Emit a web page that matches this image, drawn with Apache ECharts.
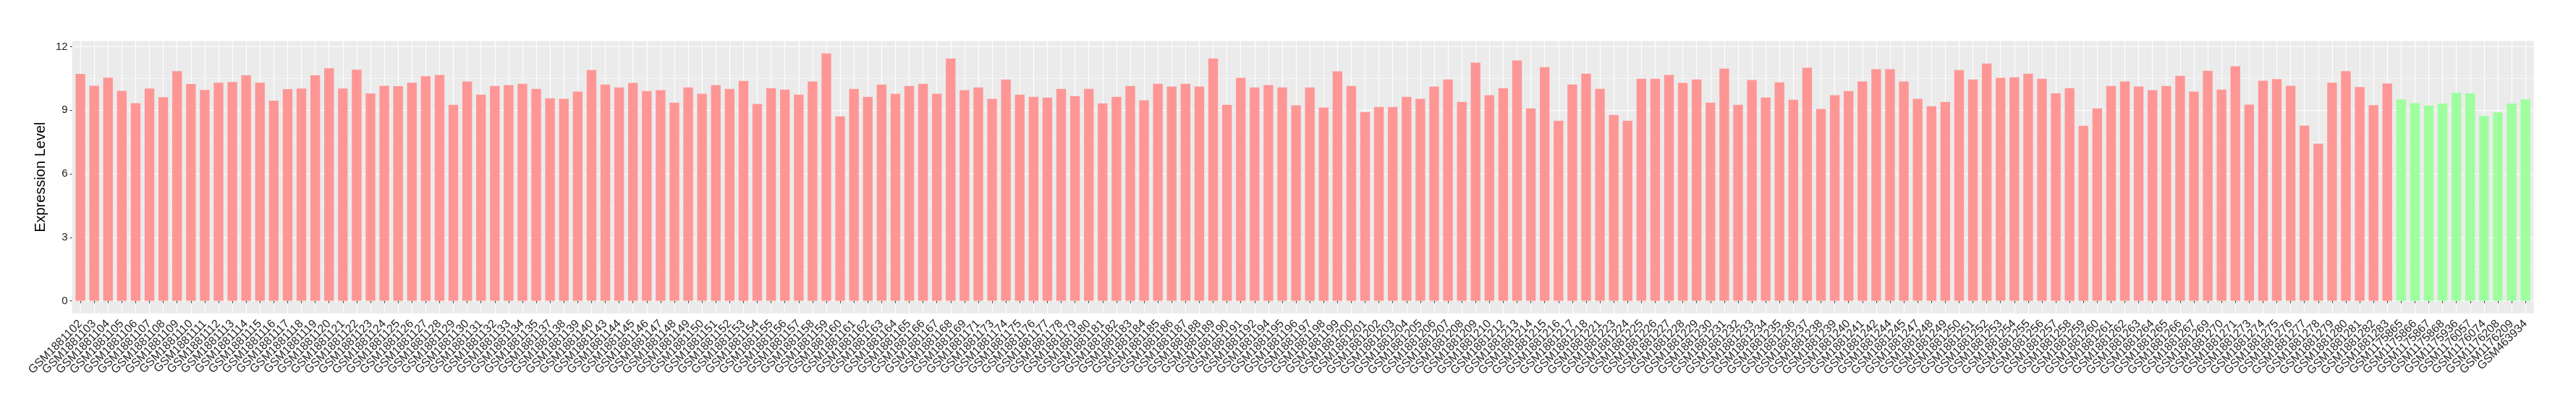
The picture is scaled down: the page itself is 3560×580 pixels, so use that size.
<!DOCTYPE html>
<html>
<head>
<meta charset="utf-8">
<script src="https://cdn.jsdelivr.net/npm/echarts@6/dist/echarts.min.js"></script>
<style>
  html, body { margin: 0; padding: 0; background: #fff; }
  #chart { width: 3560px; height: 580px; }
</style>
</head>
<body>
<div id="chart"></div>
<script>
// red group: GSM1881xxx samples
const caseSamples = [
  'GSM1881102', 'GSM1881103', 'GSM1881104', 'GSM1881105', 'GSM1881106', 'GSM1881107', 'GSM1881108', 'GSM1881109',
  'GSM1881110', 'GSM1881111', 'GSM1881112', 'GSM1881113', 'GSM1881114', 'GSM1881115', 'GSM1881116', 'GSM1881117',
  'GSM1881118', 'GSM1881119', 'GSM1881120', 'GSM1881121', 'GSM1881122', 'GSM1881123', 'GSM1881124', 'GSM1881125',
  'GSM1881126', 'GSM1881127', 'GSM1881128', 'GSM1881129', 'GSM1881130', 'GSM1881131', 'GSM1881132', 'GSM1881133',
  'GSM1881134', 'GSM1881135', 'GSM1881137', 'GSM1881138', 'GSM1881139', 'GSM1881140', 'GSM1881143', 'GSM1881144',
  'GSM1881145', 'GSM1881146', 'GSM1881147', 'GSM1881148', 'GSM1881149', 'GSM1881150', 'GSM1881151', 'GSM1881152',
  'GSM1881153', 'GSM1881154', 'GSM1881155', 'GSM1881156', 'GSM1881157', 'GSM1881158', 'GSM1881159', 'GSM1881160',
  'GSM1881161', 'GSM1881162', 'GSM1881163', 'GSM1881164', 'GSM1881165', 'GSM1881166', 'GSM1881167', 'GSM1881168',
  'GSM1881169', 'GSM1881171', 'GSM1881173', 'GSM1881174', 'GSM1881175', 'GSM1881176', 'GSM1881177', 'GSM1881178',
  'GSM1881179', 'GSM1881180', 'GSM1881181', 'GSM1881182', 'GSM1881183', 'GSM1881184', 'GSM1881185', 'GSM1881186',
  'GSM1881187', 'GSM1881188', 'GSM1881189', 'GSM1881190', 'GSM1881191', 'GSM1881192', 'GSM1881194', 'GSM1881195',
  'GSM1881196', 'GSM1881197', 'GSM1881198', 'GSM1881199', 'GSM1881200', 'GSM1881201', 'GSM1881202', 'GSM1881203',
  'GSM1881204', 'GSM1881205', 'GSM1881206', 'GSM1881207', 'GSM1881208', 'GSM1881209', 'GSM1881210', 'GSM1881212',
  'GSM1881213', 'GSM1881214', 'GSM1881215', 'GSM1881216', 'GSM1881217', 'GSM1881218', 'GSM1881221', 'GSM1881223',
  'GSM1881224', 'GSM1881225', 'GSM1881226', 'GSM1881227', 'GSM1881228', 'GSM1881229', 'GSM1881230', 'GSM1881231',
  'GSM1881232', 'GSM1881233', 'GSM1881234', 'GSM1881235', 'GSM1881236', 'GSM1881237', 'GSM1881238', 'GSM1881239',
  'GSM1881240', 'GSM1881241', 'GSM1881242', 'GSM1881244', 'GSM1881245', 'GSM1881247', 'GSM1881248', 'GSM1881249',
  'GSM1881250', 'GSM1881251', 'GSM1881252', 'GSM1881253', 'GSM1881254', 'GSM1881255', 'GSM1881256', 'GSM1881257',
  'GSM1881258', 'GSM1881259', 'GSM1881260', 'GSM1881261', 'GSM1881262', 'GSM1881263', 'GSM1881264', 'GSM1881265',
  'GSM1881266', 'GSM1881267', 'GSM1881269', 'GSM1881270', 'GSM1881271', 'GSM1881273', 'GSM1881274', 'GSM1881275',
  'GSM1881276', 'GSM1881277', 'GSM1881278', 'GSM1881279', 'GSM1881280', 'GSM1881281', 'GSM1881282', 'GSM1881283'
];
const caseValues = [
  10.72, 10.16, 10.54, 9.92, 9.34, 10.03, 9.62, 10.85,
  10.24, 9.96, 10.30, 10.34, 10.65, 10.30, 9.46, 10.00,
  10.03, 10.65, 10.99, 10.03, 10.92, 9.80, 10.16, 10.14,
  10.30, 10.61, 10.67, 9.26, 10.36, 9.74, 10.15, 10.19,
  10.25, 10.01, 9.57, 9.54, 9.88, 10.90, 10.22, 10.08,
  10.29, 9.91, 9.95, 9.36, 10.08, 9.78, 10.19, 10.01,
  10.39, 9.30, 10.05, 9.98, 9.74, 10.36, 11.69, 8.71,
  10.01, 9.64, 10.22, 9.78, 10.15, 10.25, 9.78, 11.45,
  9.95, 10.08, 9.54, 10.46, 9.74, 9.64, 9.60, 10.01,
  9.67, 10.01, 9.33, 9.64, 10.15, 9.47, 10.25, 10.12,
  10.25, 10.12, 11.45, 9.26, 10.53, 10.08, 10.19, 10.08,
  9.23, 10.08, 9.13, 10.84, 10.15, 8.92, 9.16, 9.16,
  9.64, 9.54, 10.12, 10.46, 9.40, 11.25, 9.71, 10.05,
  11.35, 9.09, 11.04, 8.51, 10.22, 10.73, 10.01, 8.78,
  8.51, 10.49, 10.49, 10.67, 10.29, 10.46, 9.36, 10.97,
  9.26, 10.43, 9.60, 10.32, 9.50, 11.01, 9.06, 9.71,
  9.91, 10.36, 10.94, 10.94, 10.36, 9.54, 9.19, 9.40,
  10.90, 10.46, 11.21, 10.53, 10.56, 10.73, 10.49, 9.81,
  10.05, 8.27, 9.09, 10.15, 10.36, 10.12, 9.95, 10.15,
  10.63, 9.88, 10.87, 9.98, 11.08, 9.27, 10.40, 10.47,
  10.16, 8.28, 7.42, 10.30, 10.85, 10.10, 9.24, 10.27
];
// green group
const controlSamples = [
  'GSM1175865', 'GSM1175866', 'GSM1175867', 'GSM1175868', 'GSM1175936',
  'GSM1176057', 'GSM1176074', 'GSM1176208', 'GSM1176209', 'GSM463934'
];
const controlValues = [9.52, 9.34, 9.22, 9.32, 9.82, 9.80, 8.73, 8.90, 9.32, 9.52];

const majorTicks = [0, 3, 6, 9, 12];
const minorTicks = [1.5, 4.5, 7.5, 10.5];

const caseColor = '#FF9696';
const controlColor = '#9EFF9E';
const font = '"Liberation Sans", Arial, Helvetica, sans-serif';
const yMin = -0.585;
const yMax = 12.27;

const samples = caseSamples.concat(controlSamples);
const barData = caseValues.map(v => ({ value: v, itemStyle: { color: caseColor } }))
  .concat(controlValues.map(v => ({ value: v, itemStyle: { color: controlColor } })));

const chart = echarts.init(document.getElementById('chart'));
chart.setOption({
  animation: false,
  backgroundColor: '#fff',
  grid: [
    // ggplot panel (discrete axis padded 0.6 bar units each side)
    { left: 99.65, right: 58.4, top: 56.7, bottom: 147.3, show: true, backgroundColor: '#EBEBEB', borderWidth: 0 },
    // bars (echarts pads 0.5 units, so shrink by 0.1 unit on each side)
    { left: 101.56, right: 60.3, top: 56.7, bottom: 147.3 }
  ],
  xAxis: [
    { gridIndex: 0, type: 'value', show: false },
    {
      gridIndex: 1,
      type: 'category',
      data: samples,
      axisLine: { show: false },
      axisTick: { show: true, alignWithLabel: true, interval: 0, length: 3, lineStyle: { color: '#333', width: 1 } },
      axisLabel: { interval: 0, rotate: 45, fontSize: 16, color: '#222', margin: 12, fontFamily: font },
      splitLine: { show: true, interval: 0, alignWithLabel: true, lineStyle: { color: '#fff', width: 1.1 } }
    }
  ],
  yAxis: [
    {
      gridIndex: 0,
      type: 'value',
      min: yMin,
      max: yMax,
      name: 'Expression Level',
      nameLocation: 'middle',
      nameGap: 23,
      nameTextStyle: { fontSize: 20, color: '#000', fontFamily: font },
      axisLine: { show: false },
      axisTick: { show: true, customValues: majorTicks, length: 3, lineStyle: { color: '#333' } },
      axisLabel: { customValues: majorTicks, fontSize: 15, color: '#222', margin: 6, fontFamily: font },
      splitLine: { show: true, lineStyle: { color: '#fff', width: 1.1 } }
    },
    {
      gridIndex: 0,
      type: 'value',
      position: 'left',
      min: yMin,
      max: yMax,
      axisLine: { show: false },
      axisTick: { show: false, customValues: minorTicks },
      axisLabel: { show: false, customValues: minorTicks },
      splitLine: { show: true, lineStyle: { color: '#fff', width: 0.55 } }
    },
    { gridIndex: 1, type: 'value', min: yMin, max: yMax, show: false }
  ],
  series: [{
    type: 'bar',
    xAxisIndex: 1,
    yAxisIndex: 2,
    barWidth: '70%',
    data: barData
  }]
});
</script>
</body>
</html>
